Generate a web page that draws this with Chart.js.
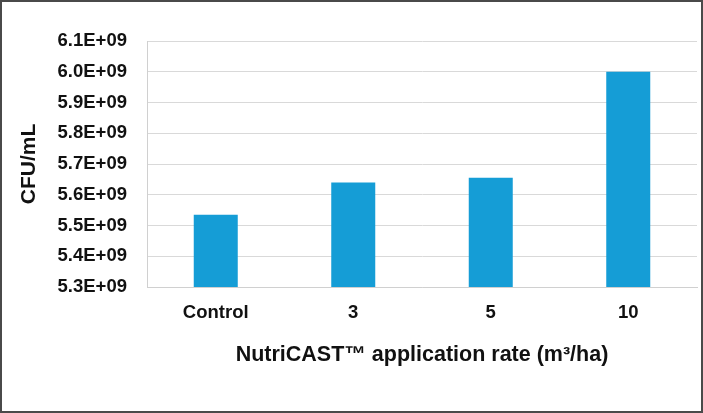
<!DOCTYPE html>
<html>
<head>
<meta charset="utf-8">
<script src="https://cdn.jsdelivr.net/npm/chart.js@4"></script>
<style>
  html, body { margin: 0; padding: 0; background: #fff; }
  #wrap { width: 703px; height: 413px; box-sizing: border-box; border: 2px solid #4a4a4a; position: relative; }
  #cfu-chart { display: block; }
</style>
</head>
<body>
<div id="wrap"><canvas id="cfu-chart" width="699" height="409"></canvas></div>
<script>
const rates = ['Control', '3', '5', '10']
const cfuValues = [5.535e9, 5.64e9, 5.655e9, 6.0e9]
const yMin = 5.3e9
const yMax = 6.1e9
const yStep = 0.1e9

const fontFamily = '"Liberation Sans", Arial, sans-serif'

window.onload = () => {
    const chart = document.querySelector('#cfu-chart');

    new Chart(chart, {
        type: 'bar',
        data: {
            labels: rates,
            datasets: [{
                data: cfuValues,
                backgroundColor: '#159DD6',
                barPercentage: 0.32,
                categoryPercentage: 1
            }]
        },
        options: {
            responsive: false,
            animation: false,
            layout: { padding: { top: 39, right: 4, left: 11, bottom: 39 } },
            plugins: { legend: { display: false }, tooltip: { enabled: false } },
            scales: {
                y: {
                    min: yMin,
                    max: yMax,
                    afterFit: s => { s.width = 134 },
                    ticks: {
                        stepSize: yStep,
                        padding: 20,
                        color: '#111',
                        font: { family: fontFamily, size: 18.5, weight: 'bold' },
                        callback: v => (v / 1e9).toFixed(1) + 'E+09'
                    },
                    grid: { color: '#d9d9d9', lineWidth: 1, drawTicks: false },
                    border: { color: '#d0d0d0' },
                    title: {
                        display: true,
                        text: 'CFU/mL',
                        color: '#111',
                        padding: { top: 4, bottom: 10 },
                        font: { family: fontFamily, size: 21, weight: 'bold' }
                    }
                },
                x: {
                    afterFit: s => { s.height = 85 },
                    ticks: {
                        padding: 15,
                        color: '#111',
                        font: { family: fontFamily, size: 18.5, weight: 'bold' }
                    },
                    grid: { display: false, drawTicks: false },
                    border: { color: '#d0d0d0' },
                    title: {
                        display: true,
                        text: 'NutriCAST™ application rate (m³/ha)',
                        color: '#111',
                        padding: { top: 10, bottom: 4 },
                        font: { family: fontFamily, size: 21.5, weight: 'bold' }
                    }
                }
            }
        }
    })
}
</script>
</body>
</html>
